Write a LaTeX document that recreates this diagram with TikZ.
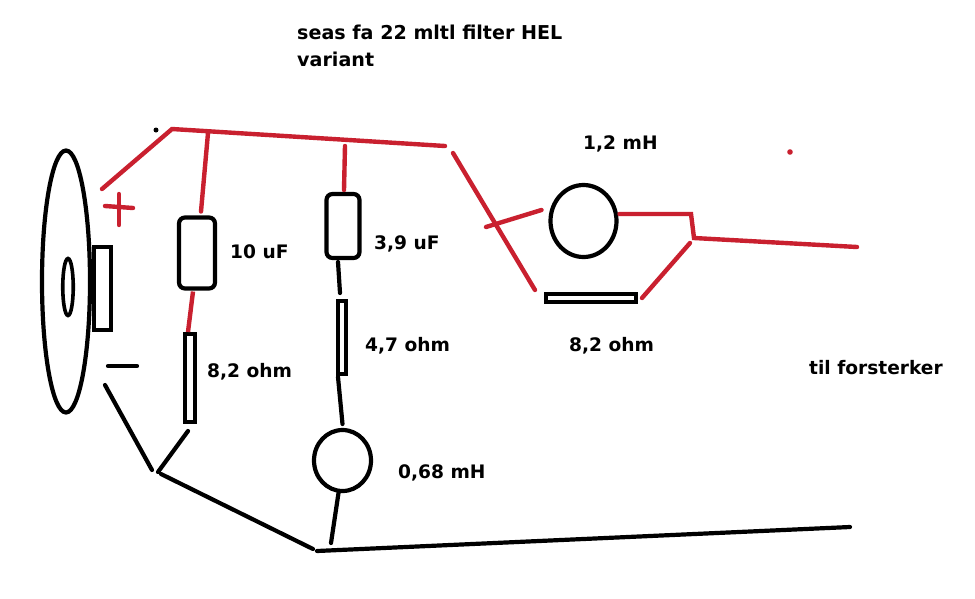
\documentclass[tikz,border=0pt]{standalone}
\usepackage{fontspec}
\setmainfont{DejaVu Sans}
\usepackage{tikz}
\usetikzlibrary{shapes.geometric}
\definecolor{wirered}{HTML}{C9202F}
\tikzset{
  wire/.style={line width=4.4pt, wirered, line cap=round},
  blk/.style={line width=4.2pt, black, line cap=round},
  part/.style={draw=black, line width=4.2pt, fill=white, inner sep=0pt, outer sep=0pt},
  lab/.style={font=\bfseries\fontsize{18.6}{22}\selectfont, anchor=base west, inner sep=0pt},
  headlab/.style={lab, font=\bfseries\fontsize{19.1}{22}\selectfont},
}

\begin{document}
\begin{tikzpicture}[x=1pt, y=-1pt]
\useasboundingbox (0,0) rectangle (975,598);
\fill[white] (0,0) rectangle (975,598);
% speaker
\node[part, rectangle, minimum width=17pt, minimum height=83pt] (magnet) at (102.5,288.5) {};
\node[part, ellipse, minimum width=48pt, minimum height=262pt] (cone) at (66,281.5) {};
\node[part, ellipse, line width=3.6pt, minimum width=10.5pt, minimum height=57pt] (dust) at (68,287) {};
% parts
\node[part, rectangle, rounded corners=6pt, minimum width=36pt, minimum height=71pt] (capa) at (197,253) {};
\node[part, rectangle, minimum width=10pt, minimum height=88pt] (resa) at (190,378) {};
\node[part, rectangle, rounded corners=6pt, minimum width=33pt, minimum height=64pt] (capb) at (343,226) {};
\node[part, rectangle, minimum width=8pt, minimum height=73pt] (resb) at (342,337.5) {};
\node[part, ellipse, minimum width=57pt, minimum height=61pt] (coilb) at (342.5,460.5) {};
\node[part, ellipse, minimum width=66pt, minimum height=72pt] (coila) at (583.5,221) {};
\node[part, rectangle, minimum width=90pt, minimum height=8pt] (resc) at (591,298) {};
% junctions
\coordinate (p1) at (102,189);
\coordinate (p2) at (172,129);
\coordinate (p3) at (208,133);
\coordinate (p4) at (345,146);
\coordinate (p5) at (445,146);
\coordinate (p6) at (453,153);
\coordinate (p7) at (535,290);
\coordinate (p8) at (486,227);
\coordinate (p9) at (691,214);
\coordinate (p10) at (694,238);
\coordinate (p11) at (857,247);
\coordinate (p12) at (690,243);
\coordinate (n1) at (105,385);
\coordinate (n2) at (152,470);
\coordinate (n3) at (158,472);
\coordinate (n4) at (161,474);
\coordinate (n5) at (313,549);
\coordinate (n6) at (317,551);
\coordinate (n7) at (850,527);
\coordinate (n8) at (331,543);
% red wires
\draw[wire] (p1) -- (p2) -- (p5);
\draw[wire] (p3) -- ([xshift=4pt,yshift=6pt]capa.north);
\draw[wire, line cap=butt] ([xshift=-4pt,yshift=-3pt]capa.south) -- ([xshift=-2pt,yshift=2pt]resa.north);
\draw[wire] (p4) -- ([xshift=1pt,yshift=4pt]capb.north);
\draw[wire] (p6) -- (p7);
\draw[wire] (p8) -- ([xshift=-9pt,yshift=11pt]coila.west);
\draw[wire] ([xshift=3pt,yshift=7pt]coila.east) -- (p9) -- (p10) -- (p11);
\draw[wire] (p12) -- ([xshift=6pt]resc.east);
% black wires
\draw[blk] (n1) -- (n2);
\draw[blk] (n3) -- ([xshift=-2pt,yshift=-9pt]resa.south);
\draw[blk] (n4) -- (n5);
\draw[blk] (n6) -- (n7);
\draw[blk] (n8) -- ([xshift=-4pt,yshift=-2pt]coilb.south);
\draw[blk] ([xshift=-4pt,yshift=-3pt]resb.south) -- ([yshift=6pt]coilb.north);
\draw[blk] ([xshift=-5pt,yshift=-4pt]capb.south) -- ([xshift=-2pt,yshift=8pt]resb.north);
% plus, minus and specks
\draw[wire] (105,206) -- (133,208);
\draw[wire] (119,194) -- (119,225);
\draw[blk] (108,366) -- (137,366);
\fill[black] (156,130) circle (2.5pt);
\fill[wirered] (790,152) circle (2.8pt);
% labels
\node[headlab] (title) at (297,39) {seas fa 22 mltl filter HEL};
\node[headlab] (titleb) at (297,66) {variant};
\node[lab] (la) at (230,258.5) {10 uF};
\node[lab] (lb) at (207,377.5) {8,2 ohm};
\node[lab] (lc) at (374,249.5) {3,9 uF};
\node[lab] (ld) at (365,351) {4,7 ohm};
\node[lab] (le) at (398,478) {0,68 mH};
\node[lab] (lf) at (583,149) {1,2 mH};
\node[lab] (lg) at (569,351) {8,2 ohm};
\node[lab] (lh) at (809,374) {til forsterker};
\end{tikzpicture}
\end{document}
